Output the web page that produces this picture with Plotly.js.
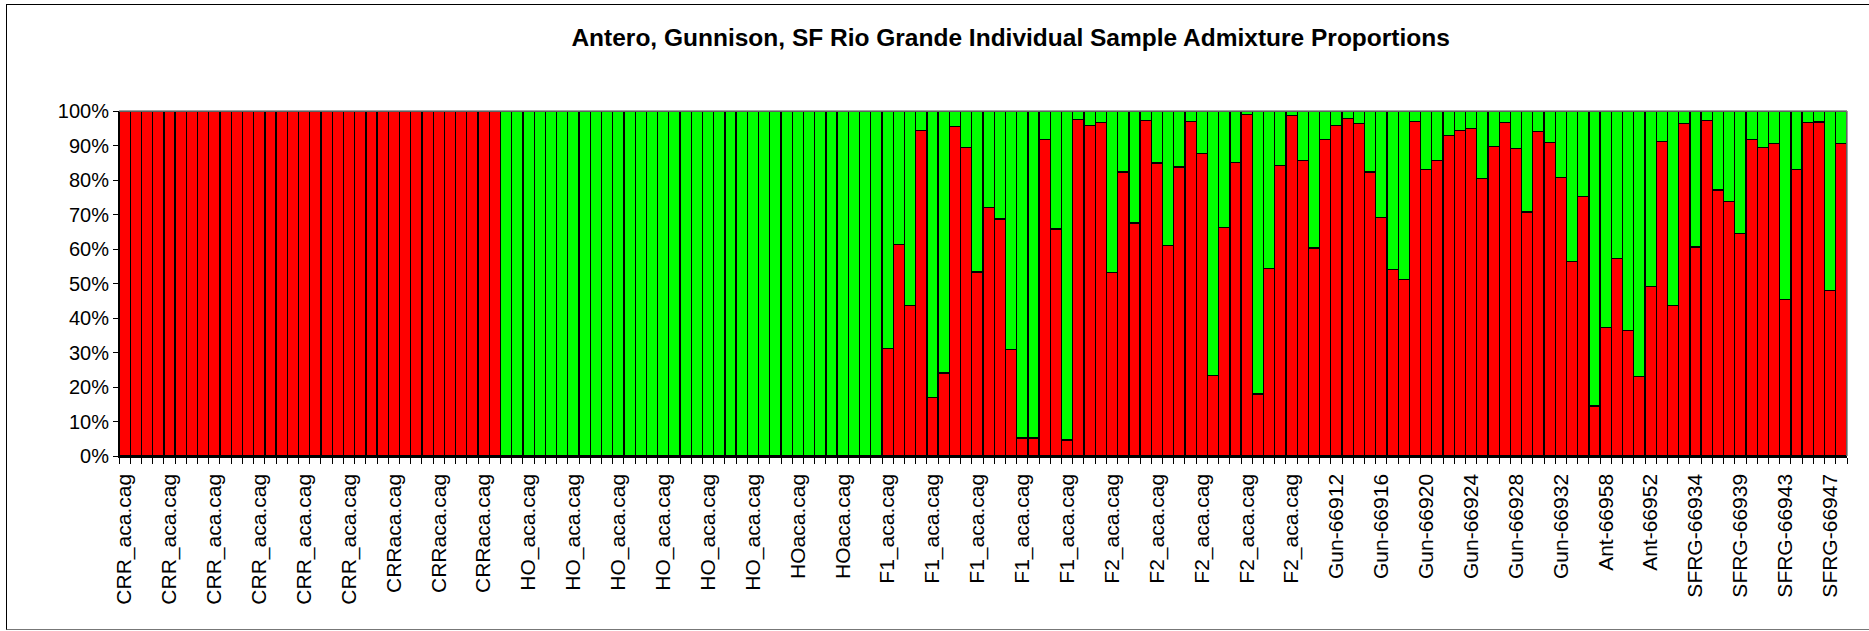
<!DOCTYPE html>
<html>
<head>
<meta charset="utf-8">
<script src="https://cdn.plot.ly/plotly-3.0.1.min.js"></script>
<style>
  html, body { margin: 0; padding: 0; background: #fff; }
  #wrap { position: relative; width: 1869px; height: 631px; overflow: hidden; }
  #chart { position: absolute; left: 0; top: 0; width: 1869px; height: 631px; }
  #frame { position: absolute; left: 6px; top: 4px; width: 1880px; height: 626px;
           border: 1px solid #000; border-bottom-color: #777; pointer-events: none; box-sizing: border-box; }
</style>
</head>
<body>
<div id="wrap">
  <div id="chart"></div>
  <div id="frame"></div>
</div>
<script>
// Tick labels shown on the axis (every 4th sample is labelled)
const tickLabels = [
  "CRR_aca.cag","CRR_aca.cag","CRR_aca.cag","CRR_aca.cag","CRR_aca.cag","CRR_aca.cag",
  "CRRaca.cag","CRRaca.cag","CRRaca.cag",
  "HO_aca.cag","HO_aca.cag","HO_aca.cag","HO_aca.cag","HO_aca.cag","HO_aca.cag",
  "HOaca.cag","HOaca.cag",
  "F1_aca.cag","F1_aca.cag","F1_aca.cag","F1_aca.cag","F1_aca.cag",
  "F2_aca.cag","F2_aca.cag","F2_aca.cag","F2_aca.cag","F2_aca.cag",
  "Gun-66912","Gun-66916","Gun-66920","Gun-66924","Gun-66928","Gun-66932",
  "Ant-66958","Ant-66952",
  "SFRG-66934","SFRG-66939","SFRG-66943","SFRG-66947"
];

// Red cluster proportion (%) per sample, in order (154 samples)
const redValues = [
  // CRR (34)
  100,100,100,100,100,100,100,100,100,100,100,100,100,100,100,100,100,
  100,100,100,100,100,100,100,100,100,100,100,100,100,100,100,100,100,
  // HO (34)
  0,0,0,0,0,0,0,0,0,0,0,0,0,0,0,0,0,
  0,0,0,0,0,0,0,0,0,0,0,0,0,0,0,0,0,
  // F1, F2, Gun, Ant, SFRG (86)
  31.1,61.4,43.6,94.3,16.9,24.1,95.6,89.5,53.3,72.0,
  68.7,30.9,5.2,5.2,91.8,65.8,4.6,97.5,95.7,96.6,
  53.1,82.3,67.5,97.2,84.9,61.0,83.8,97.0,87.7,23.4,
  66.2,85.1,98.9,18.0,54.3,84.3,98.6,85.7,60.3,91.8,
  95.7,97.8,96.3,82.3,69.1,54.1,51.1,97.0,83.1,85.6,
  92.9,94.4,95.0,80.4,89.7,96.6,89.1,70.7,94.0,90.9,
  80.7,56.3,75.2,14.5,37.3,57.2,36.4,23.0,49.1,91.2,
  43.6,96.4,60.6,97.2,77.1,73.8,64.5,91.8,89.5,90.6,
  45.4,83.1,96.6,96.8,47.9,90.6
];

// Green cluster proportion (%) per sample
const greenValues = [
  0,0,0,0,0,0,0,0,0,0,0,0,0,0,0,0,0,
  0,0,0,0,0,0,0,0,0,0,0,0,0,0,0,0,0,
  100,100,100,100,100,100,100,100,100,100,100,100,100,100,100,100,100,
  100,100,100,100,100,100,100,100,100,100,100,100,100,100,100,100,100,
  68.9,38.6,56.4,5.7,83.1,75.9,4.4,10.5,46.7,28.0,
  31.3,69.1,94.8,94.8,8.2,34.2,95.4,2.5,4.3,3.4,
  46.9,17.7,32.5,2.8,15.1,39.0,16.2,3.0,12.3,76.6,
  33.8,14.9,1.1,82.0,45.7,15.7,1.4,14.3,39.7,8.2,
  4.3,2.2,3.7,17.7,30.9,45.9,48.9,3.0,16.9,14.4,
  7.1,5.6,5.0,19.6,10.3,3.4,10.9,29.3,6.0,9.1,
  19.3,43.7,24.8,85.5,62.7,42.8,63.6,77.0,50.9,8.8,
  56.4,3.6,39.4,2.8,22.9,26.2,35.5,8.2,10.5,9.4,
  54.6,16.9,3.4,3.2,52.1,9.4
];

const sampleIndex = redValues.map((_, i) => i);
const labelEvery = 4;
const tickIdx = tickLabels.map((_, i) => i * labelEvery);

const font = "'Liberation Sans', Arial, Helvetica, sans-serif";

const traces = [
  {
    type: 'bar', x: sampleIndex, y: redValues, name: 'Cluster 1',
    marker: { color: '#FF0000', line: { color: '#000000', width: 1.3 } },
    hoverinfo: 'skip'
  },
  {
    type: 'bar', x: sampleIndex, y: greenValues, name: 'Cluster 2',
    marker: { color: '#00FF00', line: { color: '#000000', width: 1.3 } },
    hoverinfo: 'skip'
  }
];

const layout = {
  width: 1869, height: 631,
  barmode: 'stack', bargap: 0,
  showlegend: false,
  paper_bgcolor: 'rgba(0,0,0,0)',
  plot_bgcolor: '#ffffff',
  margin: { l: 119, r: 22, t: 111, b: 175, pad: 0 },
  font: { family: font, color: '#000', size: 20 },
  title: {
    text: '<b>Antero, Gunnison, SF Rio Grande Individual Sample Admixture Proportions</b>',
    font: { family: font, size: 24.5, color: '#000' },
    x: 0.516, xref: 'paper', xanchor: 'center',
    y: 0.94, yref: 'container', yanchor: 'middle'
  },
  xaxis: {
    range: [-0.5, redValues.length - 0.5],
    tickmode: 'array', tickvals: tickIdx, ticktext: tickLabels,
    tickangle: -90,
    ticks: 'outside', ticklen: 8, tickcolor: 'rgba(0,0,0,0)',
    tickfont: { family: font, size: 21, color: '#000' },
    minor: { tick0: -0.5, dtick: 1, ticks: 'outside', ticklen: 6, tickcolor: '#000', tickwidth: 1, showgrid: false },
    showline: true, linecolor: '#000', linewidth: 1.5,
    showgrid: false, zeroline: false, fixedrange: true
  },
  yaxis: {
    range: [0, 100], dtick: 10, tick0: 0, ticksuffix: '%',
    ticks: 'outside', ticklen: 5, tickcolor: '#000', tickwidth: 1,
    tickfont: { family: font, size: 20, color: '#000' },
    showline: true, linecolor: '#000', linewidth: 1,
    showgrid: false, zeroline: false, fixedrange: true
  },
  shapes: [
    { type: 'line', xref: 'paper', yref: 'paper', x0: 0, x1: 1, y0: 1, y1: 1,
      line: { color: '#808080', width: 1.5 }, layer: 'above' },
    { type: 'line', xref: 'paper', yref: 'paper', x0: 1, x1: 1, y0: 0, y1: 1,
      line: { color: '#808080', width: 1.5 }, layer: 'above' }
  ]
};

Plotly.newPlot('chart', traces, layout, { displayModeBar: false, staticPlot: true });
</script>
</body>
</html>
